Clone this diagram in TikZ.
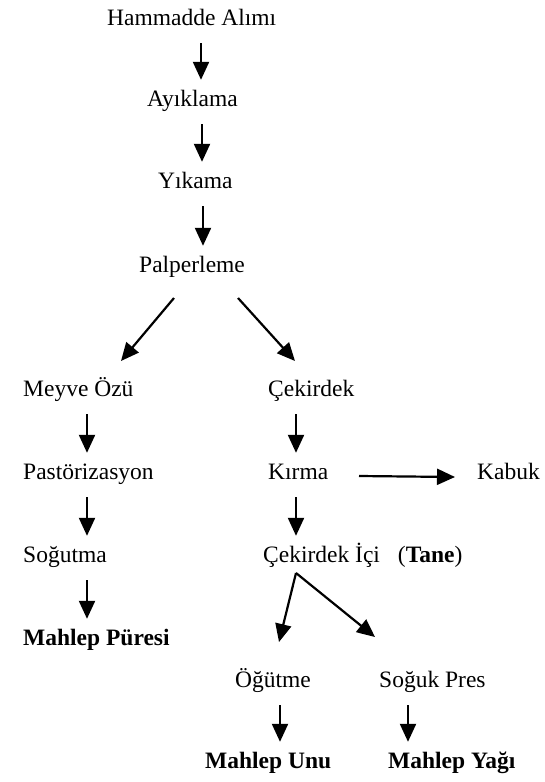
\documentclass[tikz,border=0pt]{standalone}
\usepackage{fontspec}
\setmainfont{Liberation Serif}
\usetikzlibrary{arrows.meta}
\begin{document}
\begin{tikzpicture}[x=1pt,y=-1pt,
  lbl/.style={anchor=base west,inner sep=0pt,text height=16pt,text depth=5pt,font=\fontsize{23.5}{28}\selectfont},
  arr/.style={line width=2.2pt,-{Triangle[width=16pt,length=18pt]}},
  varr/.style={arr,shorten <=13pt,shorten >=10pt}]
\useasboundingbox (0,0) rectangle (544,782);
% nodes
\node[lbl] (ham) at (107,25) {Hammadde Alımı};
\node[lbl] (ayk) at (147,106) {Ayıklama};
\node[lbl] (yik) at (158,188) {Yıkama};
\node[lbl] (pal) at (139,272) {Palperleme};
\node[lbl] (mey) at (23,396) {Meyve Özü};
\node[lbl] (cek) at (268,396) {Çekirdek};
\node[lbl] (pas) at (23,479) {Pastörizasyon};
\node[lbl] (kir) at (268,479) {Kırma};
\node[lbl] (kab) at (477,479) {Kabuk};
\node[lbl] (sog) at (23,562) {Soğutma};
\node[lbl] (ici) at (263,562) {Çekirdek İçi\hspace{18pt}(\textbf{Tane})};
\node[lbl] (pur) at (23,645) {\textbf{Mahlep Püresi}};
\node[lbl] (ogu) at (235,687) {Öğütme};
\node[lbl] (pre) at (379,687) {Soğuk Pres};
\node[lbl] (unu) at (205,768) {\textbf{Mahlep Unu}};
\node[lbl] (yag) at (388,768) {\textbf{Mahlep Yağı}};
% vertical arrows
\draw[varr] (ham.south -| 201,0) -- (ayk.north -| 201,0);
\draw[varr] (ayk.south -| 202,0) -- (yik.north -| 202,0);
\draw[varr] (yik.south -| 203,0) -- (pal.north -| 203,0);
\draw[varr] (mey.south -| 87,0) -- (pas.north -| 87,0);
\draw[varr] (pas.south -| 87,0) -- (sog.north -| 87,0);
\draw[varr] (sog.south -| 87,0) -- (pur.north -| 87,0);
\draw[varr] (cek.south -| 296,0) -- (kir.north -| 296,0);
\draw[varr] (kir.south -| 296,0) -- (ici.north -| 296,0);
\draw[varr] (ogu.south -| 280,0) -- (unu.north -| 280,0);
\draw[varr] (pre.south -| 408,0) -- (yag.north -| 408,0);
% diagonal and horizontal arrows
\draw[arr] ([shift={(35,26)}]pal.base west) -- ([shift={(98,-35)}]mey.base west);
\draw[arr] ([shift={(99,26)}]pal.base west) -- ([shift={(27,-35)}]cek.base west);
\draw[arr] ([shift={(91,-3)}]kir.base west) -- ([shift={(-22,-2)}]kab.base west);
\draw[arr] ([shift={(33,11)}]ici.base west) -- ([shift={(44,-45)}]ogu.base west);
\draw[arr] ([shift={(33,11)}]ici.base west) -- ([shift={(-4,-50)}]pre.base west);
\end{tikzpicture}
\end{document}
